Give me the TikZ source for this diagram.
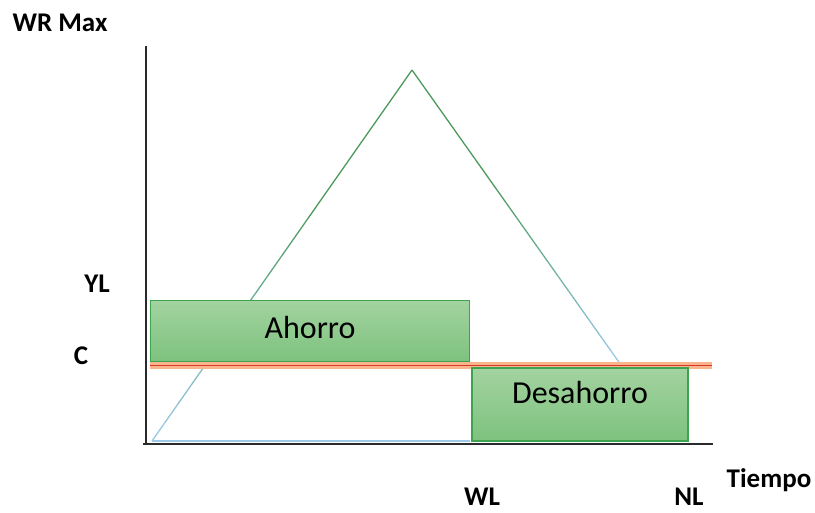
\documentclass[tikz,border=0pt]{standalone}
\usepackage{fontspec}
\setmainfont{Carlito}
\usetikzlibrary{calc}
\begin{document}
\begin{tikzpicture}[x=1pt,y=-1pt,
  lbl/.style={font=\fontsize{27}{30}\selectfont\bfseries, inner sep=0pt},
  boxtxt/.style={font=\fontsize{32}{36}\selectfont, inner sep=0pt},
  greenbox/.style={draw=boxborder, line width=1.5pt, top color=boxtop, bottom color=boxbot},
  axis/.style={line width=1.6pt, draw=axiscol}]
\definecolor{boxborder}{HTML}{3DA34F}
\definecolor{boxtop}{HTML}{A3D3A0}
\definecolor{boxbot}{HTML}{7DC27E}
\definecolor{axiscol}{HTML}{2A2A2A}
\definecolor{linegreen}{HTML}{4A9A5C}
\definecolor{lineblue}{HTML}{9CCBEA}
\definecolor{corange}{HTML}{F8B48A}
\definecolor{cred}{HTML}{D8382C}
\useasboundingbox (0,0) rectangle (815,513);
\fill[white] (0,0) rectangle (815,513);

% coordinates
\coordinate (o) at (152,441);
\coordinate (peak) at (412,70);
\coordinate (cr) at (621,365);
\coordinate (base) at (470,441);

% baseline light blue
\draw[lineblue, line width=1.2pt] (o) -- (base);

% triangle with gradient from blue (bottom) to green (top)
\foreach \i in {0,...,19}{
  \pgfmathsetmacro{\a}{\i/20}
  \pgfmathsetmacro{\b}{(\i+1)/20}
  \pgfmathsetmacro{\pc}{100*min(1,(\i+0.5)/20*1.6)}
  \draw[linegreen!\pc!lineblue, line width=1.3pt] ($(o)!\a!(peak)$) -- ($(o)!\b!(peak)$);
}
\foreach \i in {0,...,19}{
  \pgfmathsetmacro{\a}{\i/20}
  \pgfmathsetmacro{\b}{(\i+1)/20}
  \pgfmathsetmacro{\pc}{100*min(1,(1-(\i+0.5)/20)*1.6)}
  \draw[linegreen!\pc!lineblue, line width=1.3pt] ($(peak)!\a!(cr)$) -- ($(peak)!\b!(cr)$);
}

% C line
\coordinate (cl) at (150,366);
\coordinate (cre) at (712,366);
\draw[corange, line width=7pt] (cl) -- (cre);
\draw[cred, line width=1pt] (cl) -- (cre);

% boxes
\node[greenbox, minimum width=319pt, minimum height=61pt, inner sep=0pt] (ahorro) at (310,331) {};
\node[boxtxt] at ([yshift=3pt]ahorro.center) {Ahorro};
\node[greenbox, minimum width=216pt, minimum height=73pt, inner sep=0pt] (desahorro) at (580,404.5) {};
\node[boxtxt] at ([yshift=12pt]desahorro.center) {Desahorro};

% axes
\coordinate (ytop) at (146,46);
\coordinate (ybot) at (146,445);
\coordinate (xl) at (143,444);
\coordinate (xr) at (713,444);
\draw[axis] (ytop) -- (ybot);
\draw[axis] (xl) -- (xr);

% labels
\node[lbl] (wr) at (60,23) {WR Max};
\node[lbl] (yl) at (97,284) {YL};
\node[lbl] (c) at (81,356) {C};
\node[lbl] (tiempo) at (769,480) {Tiempo};
\node[lbl] (wl) at (482,497) {WL};
\node[lbl] (nl) at (689,497) {NL};
\end{tikzpicture}
\end{document}
